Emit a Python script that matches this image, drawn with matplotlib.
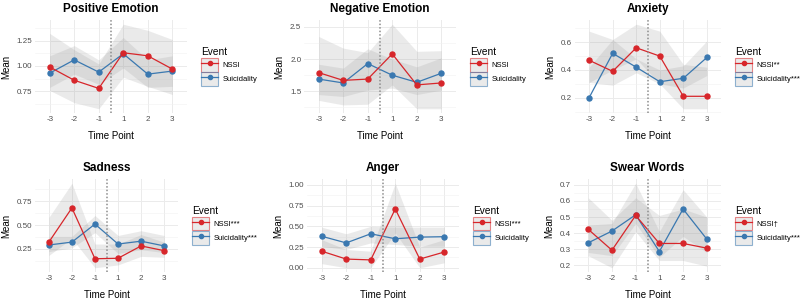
import matplotlib
matplotlib.use("Agg")
import numpy as np
import matplotlib.pyplot as plt
from matplotlib.patches import Patch
from matplotlib.lines import Line2D

plt.rcParams['font.family'] = ['Liberation Sans', 'DejaVu Sans']

time_points = ["-3", "-2", "-1", "1", "2", "3"]
event_x = 2.5  # event happens between -1 and 1

RED = "#D7262B"
BLUE = "#3A78B0"

# Positive Emotion
pos_nssi = [0.99, 0.86, 0.78, 1.13, 1.10, 0.97]
pos_nssi_lo = [0.76, 0.64, 0.58, 0.89, 0.80, 0.72]
pos_nssi_hi = [1.32, 1.16, 1.02, 1.41, 1.35, 1.26]
pos_suic = [0.93, 1.06, 0.94, 1.12, 0.92, 0.95]
pos_suic_lo = [0.79, 0.92, 0.82, 0.98, 0.79, 0.80]
pos_suic_hi = [1.10, 1.20, 1.06, 1.28, 1.06, 1.10]

# Negative Emotion
neg_nssi = [1.79, 1.67, 1.69, 2.08, 1.60, 1.63]
neg_nssi_lo = [1.36, 1.29, 1.30, 1.60, 1.23, 1.23]
neg_nssi_hi = [2.35, 2.17, 2.10, 2.54, 2.12, 2.13]
neg_suic = [1.69, 1.63, 1.93, 1.75, 1.64, 1.78]
neg_suic_lo = [1.45, 1.42, 1.52, 1.55, 1.45, 1.52]
neg_suic_hi = [1.92, 1.86, 2.16, 2.00, 1.88, 2.02]

# Anxiety
anx_nssi = [0.47, 0.39, 0.56, 0.50, 0.21, 0.21]
anx_nssi_lo = [0.31, 0.40, 0.48, 0.30, 0.12, 0.12]
anx_nssi_hi = [0.68, 0.62, 0.73, 0.68, 0.44, 0.42]
anx_suic = [0.20, 0.52, 0.42, 0.315, 0.34, 0.49]
anx_suic_lo = [0.31, 0.29, 0.38, 0.30, 0.27, 0.36]
anx_suic_hi = [0.42, 0.62, 0.48, 0.40, 0.43, 0.61]

# Sadness
sad_nssi = [0.32, 0.68, 0.145, 0.15, 0.28, 0.23]
sad_nssi_lo = [0.18, 0.36, 0.05, 0.08, 0.17, 0.16]
sad_nssi_hi = [0.58, 0.94, 0.30, 0.30, 0.40, 0.32]
sad_suic = [0.29, 0.32, 0.51, 0.30, 0.33, 0.28]
sad_suic_lo = [0.22, 0.26, 0.42, 0.20, 0.24, 0.21]
sad_suic_hi = [0.38, 0.38, 0.60, 0.39, 0.44, 0.39]

# Anger
ang_nssi = [0.20, 0.105, 0.095, 0.71, 0.105, 0.19]
ang_nssi_lo = [0.05, 0.00, 0.00, 0.42, 0.00, 0.06]
ang_nssi_hi = [0.34, 0.22, 0.20, 1.02, 0.25, 0.34]
ang_suic = [0.38, 0.30, 0.41, 0.35, 0.37, 0.375]
ang_suic_lo = [0.26, 0.22, 0.30, 0.28, 0.26, 0.26]
ang_suic_hi = [0.49, 0.41, 0.50, 0.49, 0.49, 0.49]

# Swear Words
swe_nssi = [0.424, 0.294, 0.51, 0.336, 0.336, 0.307]
swe_nssi_lo = [0.26, 0.185, 0.41, 0.23, 0.23, 0.195]
swe_nssi_hi = [0.62, 0.48, 0.62, 0.51, 0.55, 0.50]
swe_suic = [0.34, 0.413, 0.514, 0.286, 0.55, 0.363]
swe_suic_lo = [0.28, 0.26, 0.46, 0.25, 0.38, 0.28]
swe_suic_hi = [0.45, 0.46, 0.71, 0.41, 0.67, 0.50]

titles = ["Positive Emotion", "Negative Emotion", "Anxiety",
          "Sadness", "Anger", "Swear Words"]
legend_labels = [["NSSI", "Suicidality"], ["NSSI", "Suicidality"],
                 ["NSSI**", "Suicidality***"], ["NSSI***", "Suicidality***"],
                 ["NSSI***", "Suicidality"], ["NSSI\u2020", "Suicidality***"]]
y_ticks = [[0.75, 1.00, 1.25], [1.5, 2.0, 2.5], [0.2, 0.4, 0.6],
           [0.25, 0.50, 0.75], [0.00, 0.25, 0.50, 0.75, 1.00],
           [0.2, 0.3, 0.4, 0.5, 0.6, 0.7]]
y_fmt = ["{:.2f}", "{:.1f}", "{:.1f}", "{:.2f}", "{:.2f}", "{:.1f}"]

series = [
    (pos_nssi, pos_nssi_lo, pos_nssi_hi, pos_suic, pos_suic_lo, pos_suic_hi),
    (neg_nssi, neg_nssi_lo, neg_nssi_hi, neg_suic, neg_suic_lo, neg_suic_hi),
    (anx_nssi, anx_nssi_lo, anx_nssi_hi, anx_suic, anx_suic_lo, anx_suic_hi),
    (sad_nssi, sad_nssi_lo, sad_nssi_hi, sad_suic, sad_suic_lo, sad_suic_hi),
    (ang_nssi, ang_nssi_lo, ang_nssi_hi, ang_suic, ang_suic_lo, ang_suic_hi),
    (swe_nssi, swe_nssi_lo, swe_nssi_hi, swe_suic, swe_suic_lo, swe_suic_hi),
]

# panel boxes in pixels: left, right, top, bottom
boxes = [(35, 187, 20, 113), (304, 456, 20, 113), (575, 721, 20, 113),
         (35, 178, 179, 272), (307, 459, 179, 272), (574, 721, 179, 272)]

W, H = 800, 300
fig = plt.figure(figsize=(8, 3), dpi=100)


def draw_panel(box, title, data, labels, yt, fmt):
    l, r, t, b = box
    ax = fig.add_axes([l / W, 1 - b / H, (r - l) / W, (b - t) / H])
    nssi, nssi_lo, nssi_hi, suic, suic_lo, suic_hi = data
    x = np.arange(len(time_points))

    ax.fill_between(x, nssi_lo, nssi_hi, color="#999999", alpha=0.2, lw=0)
    ax.fill_between(x, suic_lo, suic_hi, color="#999999", alpha=0.2, lw=0)
    ax.plot(x, suic, color=BLUE, lw=0.9, marker="o", ms=3.6, zorder=3)
    ax.plot(x, nssi, color=RED, lw=0.9, marker="o", ms=3.6, zorder=3)
    ax.axvline(event_x, color="#8C8C8C", ls=(0, (1, 1.3)), lw=1.1, zorder=4)

    allv = np.concatenate([nssi, nssi_lo, nssi_hi, suic, suic_lo, suic_hi])
    lo, hi = allv.min(), allv.max()
    pad = 0.05 * (hi - lo)
    ax.set_xlim(-0.6, len(time_points) - 0.4)

    ax.set_xticks(x)
    ax.set_xticklabels(time_points)
    ax.set_yticks(yt)
    ax.set_yticklabels([fmt.format(v) for v in yt])
    step = yt[1] - yt[0]
    ax.set_yticks(np.arange(yt[0] - step / 2, yt[-1] + step, step), minor=True)
    ax.set_ylim(lo - pad, hi + pad)

    ax.grid(True, which="major", color="#EBEBEB", lw=0.7)
    ax.grid(True, which="minor", axis="y", color="#F2F2F2", lw=0.4)
    ax.set_axisbelow(True)
    for s in ax.spines.values():
        s.set_visible(False)
    ax.tick_params(which="both", length=0, labelsize=5.8, colors="#4D4D4D", pad=2)

    ax.set_title(title, fontsize=8.5, fontweight="bold", pad=5.5)
    ax.set_xlabel("Time Point", fontsize=7, labelpad=6)
    ax.set_ylabel("Mean", fontsize=7, labelpad=4)

    handles = []
    for c in (RED, BLUE):
        rgb = matplotlib.colors.to_rgb(c)
        key = Patch(facecolor=(0.6, 0.6, 0.6, 0.2), edgecolor=rgb + (0.55,), lw=0.8)
        ln = Line2D([], [], color=c, lw=0.9, marker="o", ms=3.0)
        handles.append((key, ln))
    ax.legend(handles, labels, title="Event", loc="center left",
              bbox_to_anchor=(1 + 10 / (r - l), 0.5), frameon=False,
              handlelength=2.3, handleheight=2.3, labelspacing=0.12,
              handletextpad=0.5, borderpad=0, fontsize=5.5, title_fontsize=7.3,
              alignment="left")


for i in range(6):
    draw_panel(boxes[i], titles[i], series[i], legend_labels[i], y_ticks[i], y_fmt[i])

fig.savefig("out.png", dpi=100, facecolor="white")
